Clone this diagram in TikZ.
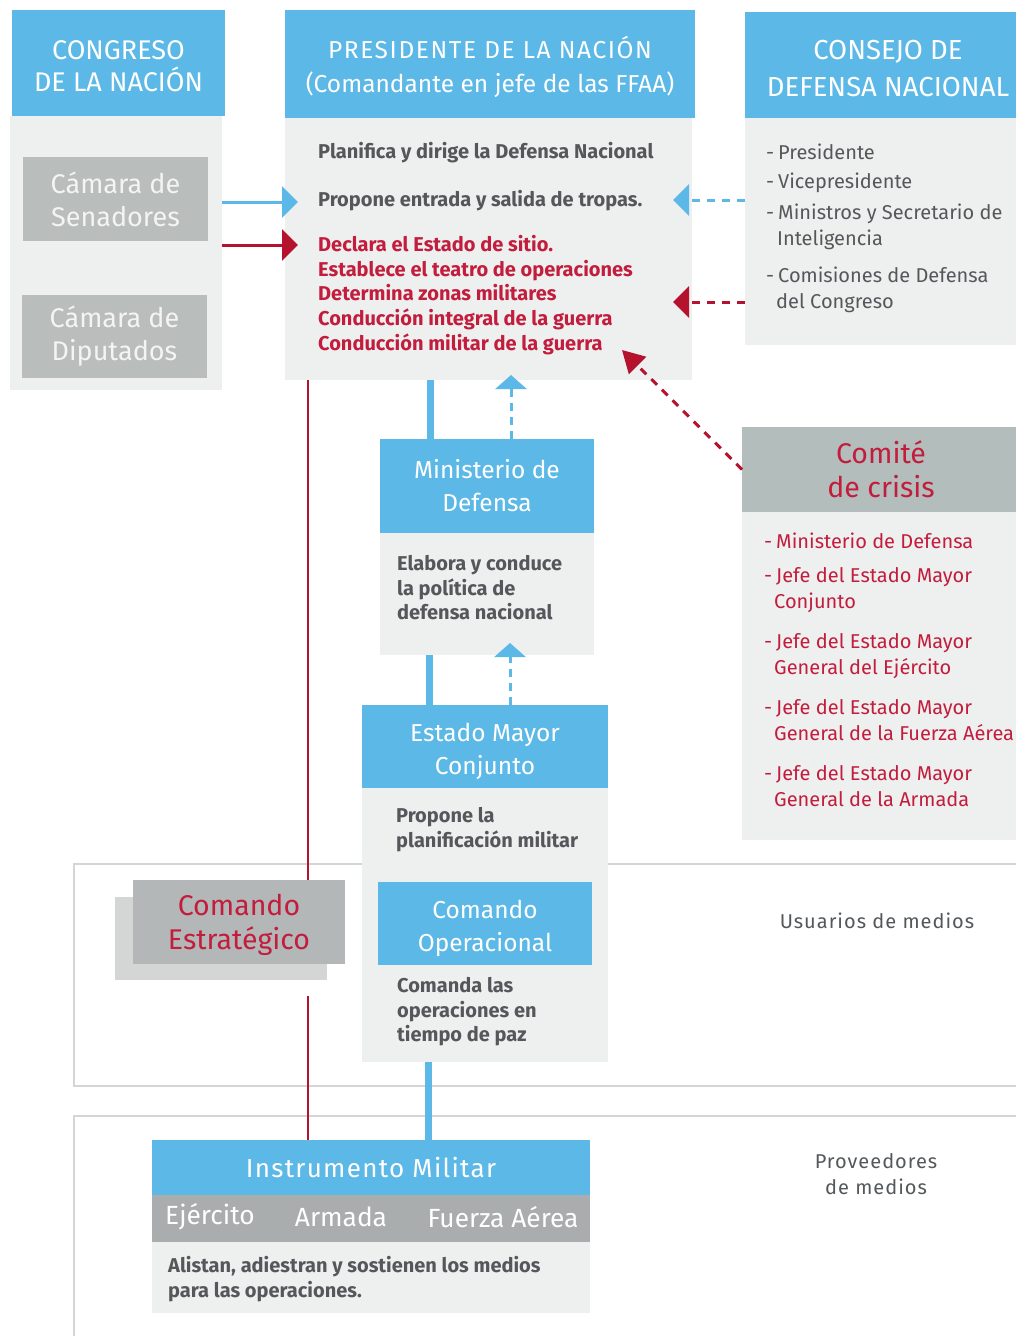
\documentclass[tikz,border=0pt]{standalone}
\usepackage{fontspec}
\setmainfont{Fira Sans}
\newfontfamily\fira{Fira Sans}
\newfontfamily\firals[LetterSpace=5]{Fira Sans}
\newfontfamily\firalsb[LetterSpace=6.5]{Fira Sans}
\usetikzlibrary{arrows.meta}
\definecolor{cblue}{HTML}{5CB8E6}
\definecolor{cbody}{HTML}{EEEFEF}
\definecolor{cgray}{HTML}{B9BDBC}
\definecolor{cgraytwo}{HTML}{B4B7B7}
\definecolor{cshadow}{HTML}{D4D6D6}
\definecolor{cgraythree}{HTML}{A9ADAD}
\definecolor{ccomite}{HTML}{B3BDBB}
\definecolor{ctext}{HTML}{54585A}
\definecolor{cred}{HTML}{C21D3D}
\definecolor{credline}{HTML}{B5132D}
\definecolor{cregion}{HTML}{D3D6D6}
\definecolor{ccam}{HTML}{F4F4F4}
\newcommand\fHeadA{\fira\fontsize{27}{32}\selectfont}
\newcommand\fHeadB{\fira\fontsize{24.5}{34}\selectfont}
\newcommand\fHeadC{\fira\fontsize{27.5}{37}\selectfont}
\newcommand\fHeadD{\fira\fontsize{24.5}{33}\selectfont}
\newcommand\fHeadE{\fira\fontsize{28.5}{34}\selectfont}
\newcommand\fCam{\fira\fontsize{27}{33}\selectfont}
\newcommand\fRow{\fira\fontsize{26.3}{33}\selectfont}
\newcommand\fInst{\firals\fontsize{26}{33}\selectfont}
\newcommand\fBold{\fira\bfseries\fontsize{20}{24.7}\selectfont}
\newcommand\fList{\fira\fontsize{20}{26}\selectfont}
\newcommand\fReg{\firals\fontsize{20}{26}\selectfont}
\newcommand\dsh{\makebox[12pt][l]{-}}
\newcommand\dn[1]{\rule{0pt}{#1pt}}
\begin{document}
\begin{tikzpicture}[x=1pt,y=-1pt,
  box/.style={rectangle,inner sep=0pt,outer sep=0pt,anchor=north west},
  wh/.style 2 args={minimum width=#1pt,minimum height=#2pt},
  bluehd/.style={box,fill=cblue,text=white,align=center},
  body/.style={box,fill=cbody},
  graybox/.style={box,fill=cgray,text=ccam,align=center},
  txt/.style={inner sep=0pt,anchor=north west,align=left,text=ctext},
  region/.style={draw=cregion,line width=2pt},
  blueline/.style={draw=cblue,line width=7pt},
  bluethin/.style={draw=cblue,line width=3pt},
  redthin/.style={draw=credline,line width=3pt},
  redline/.style={draw=credline,line width=2.5pt},
  dashpat/.style={dash pattern=on 8pt off 7pt},
  tipH/.style={-{Triangle[length=16pt,width=31pt]}},
  tipV/.style={-{Triangle[length=14pt,width=31pt]}},
  tipD/.style={-{Triangle[length=22pt,width=24pt]}}
]
\useasboundingbox (0,0) rectangle (1016,1336);
\fill[white] (0,0) rectangle (1016,1336);

% regions
\draw[region] (1030,864) -- (74,864) -- (74,1086) -- (1030,1086);
\draw[region] (1030,1116) -- (74,1116) -- (74,1350);
\node[font=\fReg,text=ctext] (usu) at (877,921) {Usuarios de medios};
\node[font=\fReg,text=ctext,align=center] (prov) at (876,1174) {Proveedores\\de medios};

% Congreso
\node[body,wh={212}{274}] (congbody) at (10,116) {};
\node[bluehd,wh={213}{106},font=\fHeadA] (conghd) at (12,10) {\dn{25}CONGRESO\\DE LA NACIÓN};
\node[graybox,wh={185}{84},font=\fCam] (senado) at (23,157) {Cámara de\\Senadores};
\node[graybox,wh={185}{83},font=\fCam] (diput) at (22,295) {Cámara de\\Diputados};

% Presidente
\node[body,wh={407}{262}] (presbody) at (285,118) {};
\node[bluehd,wh={410}{108},font=\fHeadB] (preshd) at (285,10) {\dn{28}{\firalsb PRESIDENTE DE LA NACIÓN}\\(Comandante en jefe de las FFAA)};
\node[txt,font=\fBold] (plan) at (318,142) {Planifica y dirige la Defensa Nacional};
\node[txt,font=\fBold] (prop) at (318,190) {Propone entrada y salida de tropas.};
\node[txt,font=\fBold,text=cred] (decl) at (318,235) {Declara el Estado de sitio.\\Establece el teatro de operaciones\\Determina zonas militares\\Conducción integral de la guerra\\Conducción militar de la guerra};

% Consejo
\node[body,wh={286}{227}] (consbody) at (745,118) {};
\node[bluehd,wh={286}{106},font=\fHeadC] (conshd) at (745,12) {\dn{26}CONSEJO DE\\DEFENSA NACIONAL};
\node[txt,font=\fList] (c1) at (766,144) {\dsh Presidente};
\node[txt,font=\fList] (c2) at (766,173) {\dsh Vicepresidente};
\node[txt,font=\fList] (c3) at (766,204) {\dsh Ministros y Secretario de\\\hspace*{11pt}Inteligencia};
\node[txt,font=\fList] (c4) at (766,267) {\dsh Comisiones de Defensa\\\hspace*{10pt}del Congreso};

% Comite de crisis
\node[body,wh={278}{328}] (combody) at (742,512) {};
\node[graybox,wh={278}{85},fill=ccomite,text=cred,font=\fHeadE] (comhd) at (742,427) {Comité\\de crisis};
\node[txt,font=\fList,text=cred] (k1) at (764,533) {\dsh Ministerio de Defensa};
\node[txt,font=\fList,text=cred] (k2) at (764,567) {\dsh Jefe del Estado Mayor\\\hspace*{10pt}Conjunto};
\node[txt,font=\fList,text=cred] (k3) at (764,633) {\dsh Jefe del Estado Mayor\\\hspace*{10pt}General del Ejército};
\node[txt,font=\fList,text=cred] (k4) at (764,699) {\dsh Jefe del Estado Mayor\\\hspace*{10pt}General de la Fuerza Aérea};
\node[txt,font=\fList,text=cred] (k5) at (764,765) {\dsh Jefe del Estado Mayor\\\hspace*{10pt}General de la Armada};

% Ministerio
\node[body,wh={214}{122}] (minbody) at (380,533) {};
\node[bluehd,wh={214}{94},font=\fHeadD] (minhd) at (380,439) {Ministerio de\\Defensa};
\node[txt,font=\fBold] (mintxt) at (397,555) {Elabora y conduce\\la política de\\defensa nacional};

% Estado Mayor Conjunto
\node[body,wh={246}{274}] (emcbody) at (362,788) {};
\node[bluehd,wh={246}{83},font=\fHeadD] (emchd) at (362,705) {\dn{28}Estado Mayor\\Conjunto};
\node[txt,font=\fBold] (emctxt) at (396,807) {Propone la\\planificación militar};
\node[bluehd,wh={214}{83},font=\fHeadD] (coop) at (378,882) {\dn{28}Comando\\Operacional};
\node[txt,font=\fBold] (cooptxt) at (397,977) {Comanda las\\operaciones en\\tiempo de paz};

% Comando Estrategico
\node[box,fill=cshadow,wh={212}{83}] (cesh) at (115,897) {};
\node[graybox,wh={212}{84},fill=cgraytwo,text=cred,font=\fHeadE] (cest) at (133,880) {\dn{27.5}Comando\\Estratégico};

% Instrumento Militar
\node[body,wh={438}{71}] (imbody) at (152,1242) {};
\node[bluehd,wh={438}{55},font=\fInst] (imhd) at (152,1140) {Instrumento Militar};
\node[box,fill=cgraythree,wh={438}{47}] (imrow) at (152,1195) {};
\node[font=\fRow,text=white] (ej) at (210,1217) {Ejército};
\node[font=\fRow,text=white] (ar) at (341,1217) {Armada};
\node[font=\fRow,text=white] (fa) at (503,1217) {Fuerza Aérea};
\node[txt,font=\fBold] (imtxt) at (168,1256) {Alistan, adiestran y sostienen los medios\\para las operaciones.};

% helper coordinates
\coordinate (yb) at (0,202);
\coordinate (yr) at (0,245);
\coordinate (ybc) at (0,200);
\coordinate (yrc) at (0,302);
\coordinate (xr) at (308,0);
\coordinate (xa) at (430,0);
\coordinate (xb) at (429,0);
\coordinate (xc) at (428,0);
\coordinate (xd) at (511,0);
\coordinate (xe) at (510,0);

% connectors
\draw[bluethin,tipH] (congbody.east |- yb) -- ([xshift=13pt]presbody.west |- yb);
\draw[redthin,tipH] (congbody.east |- yr) -- ([xshift=13pt]presbody.west |- yr);
\draw[bluethin,dashpat,tipH] (consbody.west |- ybc) -- ([xshift=-19pt]presbody.east |- ybc);
\draw[redthin,dashpat,tipH] (consbody.west |- yrc) -- ([xshift=-19pt]presbody.east |- yrc);
\draw[redthin,dashpat,tipD] (comhd.west) -- ([xshift=-70pt,yshift=30pt]presbody.south east);

\draw[redline] (presbody.south -| xr) -- (cest.north -| xr);
\draw[redline] ([yshift=-16pt]cesh.south -| xr) -- (imhd.north -| xr);

\draw[blueline] (presbody.south -| xa) -- (minhd.north -| xa);
\draw[blueline] (minbody.south -| xb) -- (emchd.north -| xb);
\draw[blueline] (emcbody.south -| xc) -- (imhd.north -| xc);

\draw[bluethin,dash pattern=on 8pt off 6pt,tipV] (minhd.north -| xd) -- ([yshift=5pt]presbody.south -| xd);
\draw[bluethin,dash pattern=on 8pt off 6pt,tipV] (emchd.north -| xe) -- ([yshift=12pt]minbody.south -| xe);
\end{tikzpicture}
\end{document}
